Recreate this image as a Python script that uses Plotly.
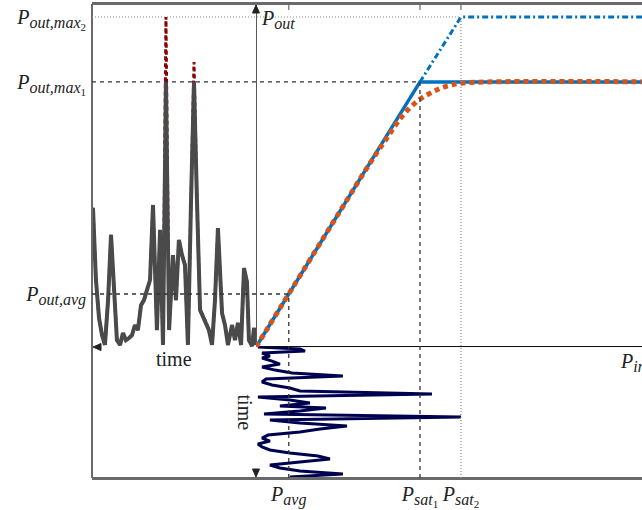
import plotly.graph_objects as go

# ---------------- axis ranges (in Pin / Pout units) ----------------
PIN_MIN, PIN_MAX = -1.0, 2.354
POUT_MIN, POUT_MAX = -0.494, 1.294

# ---------------- characteristic levels ----------------
P_avg = 0.2
P_sat1 = 1.0
P_sat2 = 1.25
Pout_avg = 0.2
Pout_max1 = 1.0
Pout_max2 = 1.245

# ---------------- transfer characteristics ----------------
ideal1_pin = [0.0, 1.0, 2.6]
ideal1_pout = [0.0, 1.0, 1.0]
ideal2_pin = [1.0, 1.25, 2.6]
ideal2_pout = [1.0, 1.245, 1.245]
soft_pin = [0.0, 0.5, 0.7, 0.8, 0.88, 0.94, 1.0, 1.06, 1.12, 1.18, 1.25, 1.4, 2.6]
soft_pout = [0.0, 0.5, 0.698, 0.79, 0.862, 0.903, 0.935, 0.957, 0.975, 0.987, 0.995, 1.0, 1.0]

# ---------------- output signal over time (left panel) ----------------
out_time = [0.000, 0.012, 0.024, 0.043, 0.055, 0.073, 0.091, 0.110, 0.128, 0.146,
            0.171, 0.189, 0.207, 0.232, 0.250, 0.268, 0.287, 0.311, 0.341, 0.360,
            0.378, 0.396, 0.415, 0.433, 0.451, 0.470, 0.488, 0.506, 0.530, 0.549,
            0.567, 0.585, 0.604, 0.628, 0.646, 0.665, 0.683, 0.701, 0.720, 0.738,
            0.756, 0.774, 0.793, 0.811, 0.829, 0.848, 0.866, 0.884, 0.902, 0.921,
            0.939, 0.957, 0.976, 0.994, 1.000]
out_linear = [0.008, 0.072, 0.004, 0.026, 0.245, 0.298, 0.008, 0.091, 0.026, 0.083,
              0.008, 0.083, 0.128, 0.449, 0.177, 0.008, 0.064, 0.102, 0.140, 0.555,
              1.075, 0.555, 0.008, 0.309, 0.347, 0.404, 0.177, 0.347, 0.064, 1.245,
              0.008, 0.442, 0.064, 0.536, 0.253, 0.215, 0.177, 0.158, 0.064, 0.083,
              0.045, 0.034, 0.026, 0.053, 0.008, 0.026, 0.215, 0.423, 0.177, 0.008,
              0.045, 0.109, 0.253, 0.525, 0.517]
out_clipped = [0.008, 0.072, 0.004, 0.026, 0.245, 0.298, 0.008, 0.091, 0.026, 0.083,
               0.008, 0.083, 0.128, 0.449, 0.177, 0.008, 0.064, 0.102, 0.140, 0.555,
               1.000, 0.555, 0.008, 0.309, 0.347, 0.404, 0.177, 0.347, 0.064, 1.000,
               0.008, 0.442, 0.064, 0.536, 0.253, 0.215, 0.177, 0.158, 0.064, 0.083,
               0.045, 0.034, 0.026, 0.053, 0.008, 0.026, 0.215, 0.423, 0.177, 0.008,
               0.045, 0.109, 0.253, 0.525, 0.517]

# ---------------- input signal over time (bottom panel) ----------------
in_time = [0.000, 0.015, 0.031, 0.046, 0.069, 0.084, 0.107, 0.130, 0.153, 0.176,
           0.198, 0.221, 0.244, 0.267, 0.290, 0.313, 0.336, 0.359, 0.382, 0.405,
           0.427, 0.450, 0.466, 0.489, 0.511, 0.534, 0.557, 0.580, 0.603, 0.626,
           0.649, 0.672, 0.695, 0.718, 0.740, 0.763, 0.786, 0.809, 0.832, 0.855,
           0.878, 0.901, 0.924, 0.947, 0.969, 0.992, 1.000]
in_power = [0.012, 0.268, 0.299, 0.037, 0.085, 0.037, 0.098, 0.146, 0.037, 0.116,
            0.220, 0.530, 0.061, 0.037, 0.098, 0.207, 0.268, 1.073, 0.012, 0.207,
            0.329, 0.146, 0.427, 0.268, 0.049, 1.250, 0.085, 0.268, 0.555, 0.390,
            0.268, 0.073, 0.037, 0.085, 0.012, 0.037, 0.085, 0.207, 0.378, 0.451,
            0.268, 0.085, 0.146, 0.268, 0.530, 0.207, 0.268]

# ---------------- labels ----------------
SUB = "<span style='font-size:16px'>{}</span>"
SUBSUB = "<span style='font-size:11px'>{}</span>"


def lbl(sub, idx=None):
    s = "<i>P</i><sub>" + SUB.format("<i>" + sub + "</i>")
    if idx is not None:
        s += "<sub>" + SUBSUB.format(idx) + "</sub>"
    return s + "</sub>"


ytick_text = [lbl("out,avg"), lbl("out,max", "1"), lbl("out,max", "2")]
xtick_text = [lbl("avg"), lbl("sat", "1"), lbl("sat", "2")]

BLUE = "#0072BD"
ORANGE = "#D95319"
GRAY_SIG = "#4a4a4a"
DARKRED = "#8B0000"
NAVY = "#000050"
FRAME = "#6a6a6a"
FONT = "Liberation Serif"
TXT = "#222222"

fig = go.Figure()

# left panel: output over time
fig.add_trace(go.Scatter(x=out_time, y=out_linear, xaxis="x2", yaxis="y", mode="lines",
                         line=dict(color=DARKRED, width=3, dash="4px,3px"), hoverinfo="skip"))
fig.add_trace(go.Scatter(x=out_time, y=out_clipped, xaxis="x2", yaxis="y", mode="lines",
                         line=dict(color=GRAY_SIG, width=4), hoverinfo="skip"))
# bottom panel: input over time
fig.add_trace(go.Scatter(x=in_power, y=in_time, xaxis="x", yaxis="y2", mode="lines",
                         line=dict(color=NAVY, width=3), hoverinfo="skip"))
# transfer characteristics
fig.add_trace(go.Scatter(x=ideal2_pin, y=ideal2_pout, mode="lines",
                         line=dict(color=BLUE, width=3, dash="6px,3px,2px,3px"), hoverinfo="skip"))
fig.add_trace(go.Scatter(x=ideal1_pin, y=ideal1_pout, mode="lines",
                         line=dict(color=BLUE, width=3.5), hoverinfo="skip"))
fig.add_trace(go.Scatter(x=soft_pin, y=soft_pout, mode="lines",
                         line=dict(color=ORANGE, width=5, dash="5px,4px", shape="spline"),
                         hoverinfo="skip"))

fx = (0 - PIN_MIN) / (PIN_MAX - PIN_MIN)
fy = (0 - POUT_MIN) / (POUT_MAX - POUT_MIN)

shapes = []
dash_black = dict(color="#333333", width=1.3, dash="4px,4px")
dot_gray = dict(color="#8a8a8a", width=1.2, dash="1px,2px")
frame = dict(color=FRAME, width=2)
# frame (top, left, bottom)
shapes.append(dict(type="line", xref="x", yref="y", x0=PIN_MIN, x1=PIN_MAX,
                   y0=POUT_MAX, y1=POUT_MAX, line=frame))
shapes.append(dict(type="line", xref="paper", yref="paper", x0=0, x1=0, y0=0, y1=1, line=frame))
shapes.append(dict(type="line", xref="paper", yref="paper", x0=0, x1=1, y0=0, y1=0, line=frame))
# top ticks
for xv in [P_avg, P_sat1, P_sat2]:
    shapes.append(dict(type="line", xref="x", yref="paper", x0=xv, x1=xv, y0=1, y1=1 - 6 / 474,
                       line=dict(color=FRAME, width=1.2)))
# main axes
shapes.append(dict(type="line", xref="x", yref="y", x0=0, x1=0, y0=POUT_MIN, y1=POUT_MAX,
                   line=dict(color="#555555", width=2), layer="below"))
shapes.append(dict(type="line", xref="x", yref="y", x0=PIN_MIN, x1=PIN_MAX, y0=0, y1=0,
                   line=dict(color="#111111", width=2), layer="below"))
# arrow heads (pixel-sized paths anchored at axis ends)
head = dict(type="path", xref="x", yref="y", xsizemode="pixel", ysizemode="pixel",
            fillcolor="#222222", line=dict(color="#222222", width=1))
shapes.append(dict(xanchor=PIN_MIN, yanchor=0, path="M 1,0 L 9,-3.5 L 9,3.5 Z", **head))
shapes.append(dict(xanchor=0, yanchor=POUT_MAX, path="M 0,-1 L -3.5,-9 L 3.5,-9 Z", **head))
shapes.append(dict(xanchor=0, yanchor=POUT_MIN, path="M 0,1 L -3.5,9 L 3.5,9 Z", **head))
# reference lines
shapes.append(dict(type="line", xref="x", yref="y", x0=PIN_MIN, x1=P_avg, y0=Pout_avg, y1=Pout_avg, line=dash_black))
shapes.append(dict(type="line", xref="x", yref="y", x0=PIN_MIN, x1=P_sat1, y0=Pout_max1, y1=Pout_max1, line=dash_black))
shapes.append(dict(type="line", xref="x", yref="y", x0=PIN_MIN, x1=P_sat2, y0=Pout_max2, y1=Pout_max2, line=dot_gray))
shapes.append(dict(type="line", xref="x", yref="y", x0=P_avg, x1=P_avg, y0=POUT_MIN, y1=Pout_avg, line=dash_black))
shapes.append(dict(type="line", xref="x", yref="y", x0=P_sat1, x1=P_sat1, y0=POUT_MIN, y1=Pout_max1, line=dash_black))
shapes.append(dict(type="line", xref="x", yref="y", x0=P_sat2, x1=P_sat2, y0=POUT_MIN, y1=Pout_max2, line=dot_gray))

annotations = []
tf = dict(family=FONT, size=20, color=TXT)
annotations.append(dict(x=0, y=1, xref="x", yref="paper", xanchor="left", yanchor="top",
                        xshift=3, yshift=-1, text=lbl("out"), showarrow=False, font=tf))
annotations.append(dict(x=PIN_MAX, y=0, xref="x", yref="y", xanchor="left", yanchor="top",
                        xshift=-24, yshift=-1, text=lbl("in"), showarrow=False, font=tf))
annotations.append(dict(x=0.5, y=0, xref="x2 domain", yref="y", xanchor="center", yanchor="top",
                        yshift=1, text="time", showarrow=False, font=tf))
annotations.append(dict(x=0, y=0.5, xref="x", yref="y2 domain", xanchor="center", yanchor="middle",
                        xshift=-11, text="time", textangle=90, showarrow=False, font=tf))

fig.update_layout(
    width=642, height=510,
    margin=dict(l=92, r=0, t=4, b=32, pad=0),
    paper_bgcolor="white", plot_bgcolor="white",
    showlegend=False,
    shapes=shapes, annotations=annotations,
    xaxis=dict(domain=[0, 1], range=[PIN_MIN, PIN_MAX], showgrid=False, zeroline=False,
               showline=True, linecolor=FRAME, linewidth=2, mirror=True, automargin=False,
               ticks="inside", ticklen=5, tickwidth=1.2, tickcolor=FRAME,
               tickvals=[P_avg, P_sat1, P_sat2], ticktext=xtick_text,
               tickfont=tf, ticklabelstandoff=-3, anchor="y"),
    yaxis=dict(domain=[0, 1], range=[POUT_MIN, POUT_MAX], showgrid=False, zeroline=False,
               showline=False, automargin=False,
               ticks="inside", ticklen=5, tickwidth=1.2, tickcolor=FRAME,
               tickvals=[Pout_avg, Pout_max1, Pout_max2], ticktext=ytick_text,
               tickfont=tf, ticklabelstandoff=5, anchor="x"),
    xaxis2=dict(domain=[0, fx], range=[1, 0], anchor="y", visible=False),
    yaxis2=dict(domain=[0, fy], range=[1, 0], anchor="x", visible=False),
)

fig.write_html("out.html", config={"displayModeBar": False},
               post_script="document.body.style.margin='0';document.body.style.overflow='hidden';")
